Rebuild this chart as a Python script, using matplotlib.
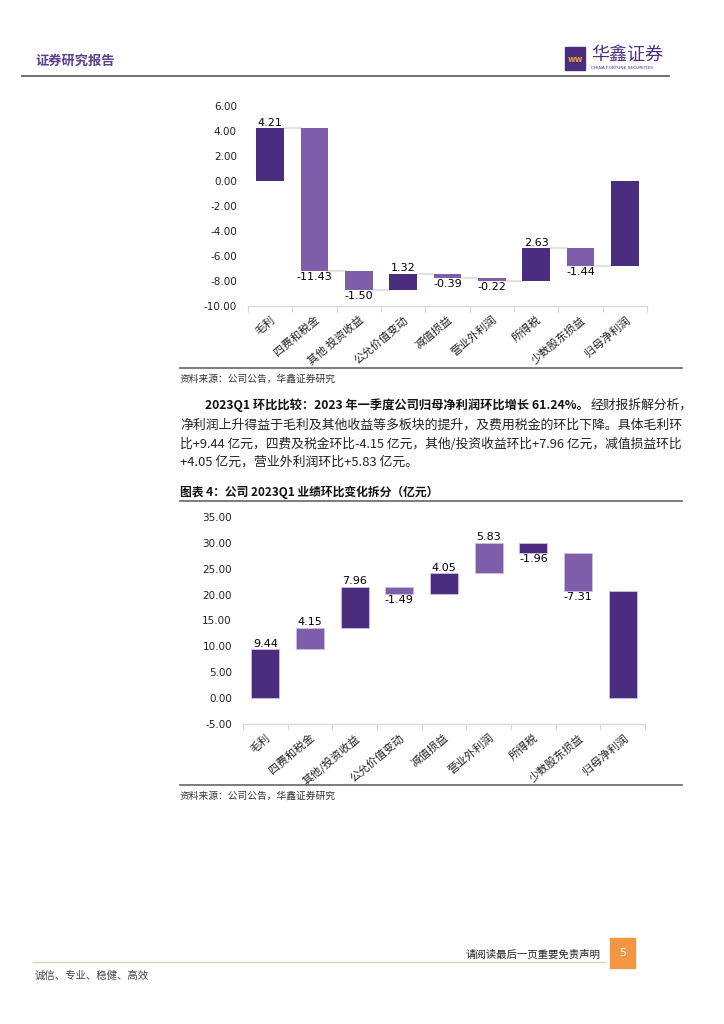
import matplotlib
matplotlib.use("Agg")
import matplotlib.pyplot as plt
from matplotlib.patches import Rectangle
import numpy as np

plt.rcParams['font.family'] = ['Noto Sans CJK SC', 'DejaVu Sans']
plt.rcParams['axes.unicode_minus'] = False

# ---- datos ----
cats1 = ["毛利", "四费和税金", "其他 投资收益", "公允价值变动", "减值损益",
         "营业外利润", "所得税", "少数股东损益", "归母净利润"]
vals1 = [4.21, -11.43, -1.50, 1.32, -0.39, -0.22, 2.63, -1.44]
yticks1 = [-10, -8, -6, -4, -2, 0, 2, 4, 6]

cats2 = ["毛利", "四费和税金", "其他/投资收益", "公允价值变动", "减值损益",
         "营业外利润", "所得税", "少数股东损益", "归母净利润"]
vals2 = [9.44, 4.15, 7.96, -1.49, 4.05, 5.83, -1.96, -7.31]
yticks2 = [-5, 0, 5, 10, 15, 20, 25, 30, 35]

DARK = "#4b2d80"
LIGHT = "#7f5ea9"
colors1 = [DARK, LIGHT, LIGHT, DARK, LIGHT, LIGHT, DARK, LIGHT, DARK]
colors2 = [DARK, LIGHT, DARK, LIGHT, DARK, LIGHT, DARK, LIGHT, DARK]

W, H = 724, 1024
fig = plt.figure(figsize=(W / 100, H / 100), dpi=100)


def ft(x, y, s, **kw):
    return fig.text(x / W, 1 - y / H, s, **kw)


def hline(x0, x1, y, color, lw):
    fig.add_artist(plt.Line2D([x0 / W, x1 / W], [1 - y / H, 1 - y / H],
                              color=color, lw=lw, transform=fig.transFigure))


def waterfall(rect, cats, vals, colors, yticks, connectors, edge):
    ax = fig.add_axes(rect)
    n = len(cats)
    ends = np.cumsum(vals)
    starts = np.concatenate([[0], ends[:-1]])
    bottoms = list(np.minimum(starts, ends)) + [min(0, ends[-1])]
    heights = list(np.abs(vals)) + [abs(ends[-1])]
    x = np.arange(n)
    w = 0.63
    ax.bar(x, heights, bottom=bottoms, width=w, color=colors,
           edgecolor=edge, linewidth=0.6 if edge != "none" else 0, zorder=3)
    if connectors:
        for i in range(n - 1):
            ax.plot([i + w / 2, i + 1 - w / 2], [ends[i], ends[i]],
                    color="#e3e3e3", lw=1.6, zorder=2)
    for i, v in enumerate(vals):
        if v >= 0:
            ax.annotate(f"{v:.2f}", (i, ends[i]), xytext=(0, 0.5),
                        textcoords="offset points", ha="center", va="bottom",
                        fontsize=8, family="DejaVu Sans")
        else:
            ax.annotate(f"{v:.2f}", (i, ends[i]), xytext=(0, -0.5),
                        textcoords="offset points", ha="center", va="top",
                        fontsize=8, family="DejaVu Sans")
    ax.set_xlim(-0.5, n - 0.5)
    ax.set_ylim(yticks[0], yticks[-1])
    ax.set_yticks(yticks)
    ax.set_yticklabels([f"{t:.2f}" for t in yticks], fontsize=7.5,
                       family="DejaVu Sans", color="#222222")
    ax.tick_params(axis="y", length=0, pad=8)
    ax.set_xticks(x)
    ax.set_xticklabels(cats, rotation=40, ha="right", rotation_mode="anchor",
                       fontsize=8, color="#222222")
    ax.tick_params(axis="x", length=0, pad=6)
    ax.set_xticks(np.arange(n + 1) - 0.5, minor=True)
    ax.tick_params(axis="x", which="minor", length=4, color="#d9d9d9", width=0.8)
    for s in ["top", "right", "left"]:
        ax.spines[s].set_visible(False)
    ax.spines["bottom"].set_color("#d9d9d9")
    ax.spines["bottom"].set_linewidth(1.0)
    return ax


# ---- cabecera ----
ft(35, 61, "证券研究报告", fontsize=9.5, color="#5b3f90", fontweight="bold", va="center")
fig.add_artist(Rectangle((565 / W, 1 - 70 / H), 20 / W, 23 / H,
                         transform=fig.transFigure, color="#4b2d80"))
ft(575, 59, "ww", fontsize=6, color="#f0a030", ha="center", va="center",
   family="DejaVu Sans", fontweight="bold")
ft(591, 55, "华鑫证券", fontsize=13, color="#4b2d80", va="center")
ft(591, 68, "CHINA FORTUNE SECURITIES", fontsize=3.2, color="#4b2d80", va="center",
   family="DejaVu Sans")
hline(22, 669, 76, "#555555", 1.2)

# ---- grafico 1 ----
waterfall([248 / W, 1 - 306 / H, 399 / W, 200 / H], cats1, vals1, colors1,
          yticks1, True, "none")
hline(180, 682, 368, "#666666", 1.2)
ft(180, 379, "资料来源：公司公告，华鑫证券研究", fontsize=7, color="#333333", va="center")

# ---- texto ----
bold = ft(205, 405, "2023Q1 环比比较：2023 年一季度公司归母净利润环比增长 61.24%。",
          fontsize=8.8, fontweight="bold", color="#111111", va="center")
renderer = fig.canvas.get_renderer()
bx = bold.get_window_extent(renderer).x1
ft(bx + 2, 405, "经财报拆解分析，", fontsize=9.2, color="#222222", va="center")
ft(180, 425, "净利润上升得益于毛利及其他收益等多板块的提升，及费用税金的环比下降。具体毛利环",
   fontsize=9.3, color="#222222", va="center")
ft(180, 444, "比+9.44 亿元，四费及税金环比-4.15 亿元，其他/投资收益环比+7.96 亿元，减值损益环比",
   fontsize=9.2, color="#222222", va="center")
ft(180, 462, "+4.05 亿元，营业外利润环比+5.83 亿元。",
   fontsize=9.3, color="#222222", va="center")
ft(180, 492, "图表 4：公司 2023Q1 业绩环比变化拆分（亿元）", fontsize=8.5,
   fontweight="bold", color="#111111", va="center")
hline(180, 682, 501, "#666666", 1.2)

# ---- grafico 2 ----
waterfall([243 / W, 1 - 724 / H, 402 / W, 207 / H], cats2, vals2, colors2,
          yticks2, False, "#cdbfe3")
hline(180, 682, 785, "#666666", 1.2)
ft(180, 796, "资料来源：公司公告，华鑫证券研究", fontsize=7, color="#333333", va="center")

# ---- pie de pagina ----
ft(600, 955, "请阅读最后一页重要免责声明", fontsize=7.5, color="#222222", ha="right", va="center")
fig.add_artist(Rectangle((610 / W, 1 - 968 / H), 25 / W, 30 / H,
                         transform=fig.transFigure, color="#f39644"))
ft(622.5, 953, "5", fontsize=8, color="white", ha="center", va="center", family="DejaVu Sans")
hline(33, 605, 962, "#d8d3c0", 1.0)
ft(35, 976, "诚信、专业、稳健、高效", fontsize=7.5, color="#444444", va="center")

fig.savefig("out.png", dpi=100)
